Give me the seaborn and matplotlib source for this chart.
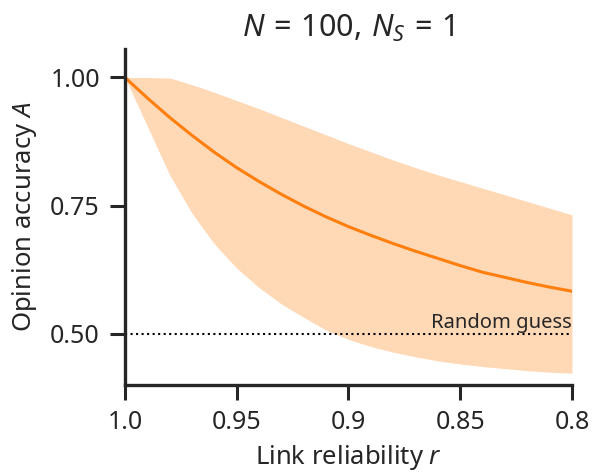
import matplotlib
matplotlib.use("Agg")
import matplotlib.pyplot as plt
import numpy as np
import pandas as pd
import seaborn as sns

# Link reliability r (x) and opinion accuracy A: mean and spread band
reliability = [1.00, 0.99, 0.98, 0.97, 0.96, 0.95, 0.94, 0.93, 0.92, 0.91, 0.90,
               0.89, 0.88, 0.87, 0.86, 0.85, 0.84, 0.83, 0.82, 0.81, 0.80]
accuracy_mean = [1.000, 0.960, 0.922, 0.887, 0.854, 0.824, 0.797, 0.772, 0.749, 0.728, 0.709,
                 0.692, 0.676, 0.661, 0.647, 0.633, 0.620, 0.610, 0.600, 0.591, 0.583]
accuracy_upper = [1.000, 1.000, 0.999, 0.986, 0.971, 0.955, 0.939, 0.922, 0.905, 0.888, 0.871,
                  0.855, 0.839, 0.824, 0.810, 0.797, 0.784, 0.771, 0.758, 0.745, 0.732]
accuracy_lower = [1.000, 0.905, 0.810, 0.735, 0.675, 0.628, 0.590, 0.558, 0.532, 0.507, 0.489,
                  0.475, 0.464, 0.455, 0.447, 0.441, 0.436, 0.432, 0.428, 0.425, 0.423]
random_guess = 0.5

x_ticks = [1.0, 0.95, 0.9, 0.85, 0.8]
x_ticklabels = ["1.0", "0.95", "0.9", "0.85", "0.8"]
y_ticks = [0.5, 0.75, 1.0]
y_ticklabels = ["0.50", "0.75", "1.00"]

sns.set_theme(style="ticks")
FONT = "Noto Sans"
plt.rcParams["font.family"] = [FONT, "DejaVu Sans"]
plt.rcParams["mathtext.fontset"] = "custom"
plt.rcParams["mathtext.rm"] = FONT
plt.rcParams["mathtext.it"] = f"{FONT}:italic"
plt.rcParams["mathtext.bf"] = f"{FONT}:bold"

ink = "#262626"
orange = "#ff7f0e"

df = pd.DataFrame({
    "r": reliability,
    "mean": accuracy_mean,
    "upper": accuracy_upper,
    "lower": accuracy_lower,
})

fig = plt.figure(figsize=(5.94, 4.73), dpi=100)
ax = fig.add_axes([0.2104, 0.186, 0.7526, 0.7098])

ax.fill_between(df["r"], df["lower"], df["upper"], color=orange, alpha=0.3, lw=0)
sns.lineplot(data=df, x="r", y="mean", color=orange, lw=2.2, ax=ax)
ax.axhline(random_guess, color="black", ls=":", lw=1.5)
ax.text(0.8, random_guess + 0.012, "Random guess", ha="right", va="baseline",
        fontsize=14.5, color=ink)

ax.set_xlim(1.0, 0.8)
ax.set_ylim(0.4, 1.055)
ax.set_xticks(x_ticks)
ax.set_xticklabels(x_ticklabels)
ax.set_yticks(y_ticks)
ax.set_yticklabels(y_ticklabels)

ax.tick_params(axis="both", labelsize=18, length=11, width=2.2, color=ink,
               labelcolor=ink, pad=7)
for side in ("left", "bottom"):
    ax.spines[side].set_linewidth(2.4)
    ax.spines[side].set_color(ink)
sns.despine(ax=ax)

ax.set_xlabel("Link reliability $r$", fontsize=18.5, color=ink, labelpad=6)
ax.set_ylabel("Opinion accuracy $A$", fontsize=18.5, color=ink, labelpad=8)
ax.set_title(r"$N\,=\,100,\,N_S\,=\,1$", fontsize=22, color=ink, pad=9)

fig.savefig("out.png", dpi=100)
